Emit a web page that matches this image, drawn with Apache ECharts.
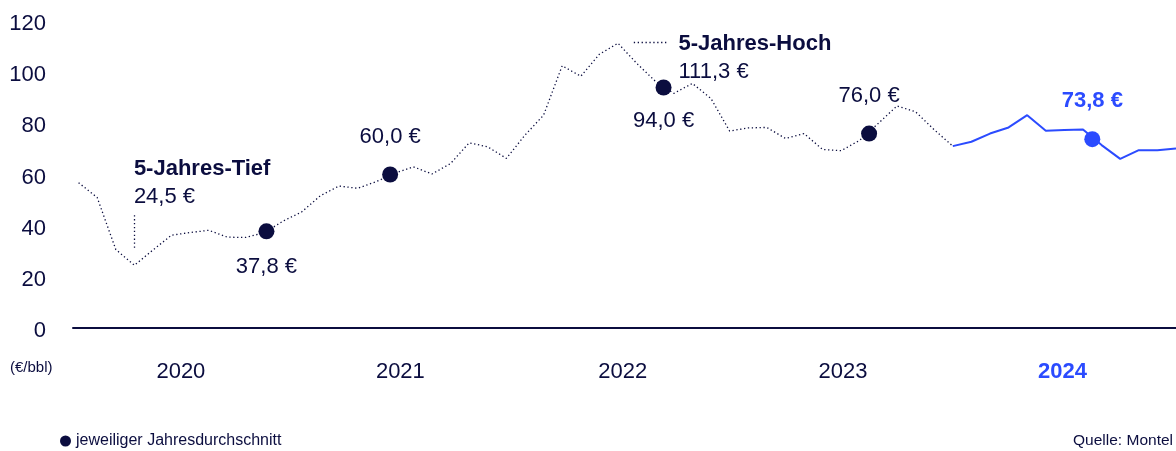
<!DOCTYPE html>
<html>
<head>
<meta charset="utf-8">
<script src="https://cdn.jsdelivr.net/npm/echarts@6/dist/echarts.min.js"></script>
<style>
html, body { margin: 0; padding: 0; background: #fff; }
#chart { width: 1176px; height: 451px; }
</style>
</head>
<body>
<div id="chart"></div>
<script>
// Brent, €/bbl, monatlich Jan 2020 (Index 0) bis Dez 2024 (Index 59)
const prices = [
  56.8, 51.0, 30.7, 24.5, 30.5, 36.3, 37.3, 38.2, 35.5, 35.4, 37.3, 41.8,
  45.4, 51.7, 55.5, 54.6, 57.2, 60.5, 63.0, 60.2, 64.3, 72.4, 70.8, 66.3,
  75.4, 83.2, 102.5, 98.4, 107.0, 111.3, 103.5, 96.5, 91.7, 95.6, 89.7, 77.0,
  78.2, 78.4, 74.1, 76.0, 69.8, 69.3, 73.4, 80.0, 86.8, 84.5, 77.5, 71.1,
  72.8, 76.0, 78.4, 83.2, 77.1, 77.4, 77.6, 71.5, 66.1, 69.5, 69.5, 70.2
]
const currentFrom = 47 // ab hier durchgezogen (2024)

const years = ['2020', '2021', '2022', '2023', '2024']
const yearLabelPos = [5.5, 17.3, 29.25, 41.1, 52.9]

// Jahresdurchschnitte
const avgPos = [10.1, 16.75, 31.45, 42.5, 54.5]
const avgValues = [37.8, 60.0, 94.0, 76.0, 73.8]
const avgSide = ['bottom', 'top', 'bottom', 'top', 'top']

const lowIdx = 3
const highIdx = 29

const navy = '#0b0d3f'
const blue = '#2b4bff'
const font = '"Liberation Sans", Arial, sans-serif'

const fmt = v => v.toFixed(1).replace('.', ',') + ' €'

const chart = echarts.init(document.getElementById('chart'))
chart.setOption({
  animation: false,
  textStyle: { fontFamily: font, color: navy },
  grid: { left: 73, right: 0, top: 21, bottom: 123 },
  legend: {
    left: 55,
    top: 428,
    itemWidth: 11,
    itemHeight: 11,
    textStyle: { fontSize: 16, color: navy, fontFamily: font },
    data: [{ name: 'jeweiliger Jahresdurchschnitt', icon: 'circle', itemStyle: { color: navy } }]
  },
  xAxis: {
    type: 'value',
    min: -0.3,
    max: 59,
    splitLine: { show: false },
    axisTick: { show: false },
    axisLine: { lineStyle: { color: navy, width: 2 } },
    axisLabel: {
      customValues: yearLabelPos,
      margin: 33,
      fontSize: 22,
      color: navy,
      formatter: v => {
        const i = yearLabelPos.indexOf(v)
        return i === years.length - 1 ? '{cur|' + years[i] + '}' : years[i]
      },
      rich: { cur: { color: blue, fontWeight: 'bold', fontSize: 22, fontFamily: font } }
    }
  },
  yAxis: {
    type: 'value',
    min: 0,
    max: 120,
    interval: 20,
    splitLine: { show: false },
    axisLine: { show: false },
    axisTick: { show: false },
    axisLabel: {
      margin: 27,
      formatter: v => '{t|' + v + '}',
      rich: { t: { fontSize: 22, color: navy, fontFamily: font, padding: [6, 0, 0, 0] } }
    }
  },
  graphic: [
    { type: 'text', left: 10, top: 360, style: { text: '(€/bbl)', font: '15px ' + font, fill: navy } },
    { type: 'text', right: 3, top: 433, style: { text: 'Quelle: Montel', font: '15.5px ' + font, fill: navy } }
  ],
  series: [
    {
      name: 'Brent',
      type: 'line',
      data: prices.slice(0, currentFrom + 1).map((v, i) => [i, v]),
      showSymbol: false,
      lineStyle: { color: navy, width: 1.3, type: [1.3, 2.6] },
      markPoint: {
        symbol: 'circle',
        symbolSize: 1,
        itemStyle: { color: 'rgba(0,0,0,0)' },
        label: {
          show: true,
          align: 'left',
          verticalAlign: 'top',
          rich: {
            b: { fontWeight: 'bold', fontSize: 22, lineHeight: 28, color: navy, fontFamily: font },
            r: { fontSize: 22, lineHeight: 28, color: navy, fontFamily: font }
          }
        },
        data: [
          {
            coord: [lowIdx, prices[lowIdx]],
            label: { position: [0, -110], formatter: '{b|5-Jahres-Tief}\n{r|' + fmt(prices[lowIdx]) + '}' }
          },
          {
            coord: [highIdx, prices[highIdx]],
            label: { position: [61, -13], formatter: '{b|5-Jahres-Hoch}\n{r|' + fmt(prices[highIdx]) + '}' }
          }
        ]
      },
      markLine: {
        silent: true,
        symbol: 'none',
        label: { show: false },
        lineStyle: { color: navy, width: 1.3, type: [1.3, 2.6] },
        data: [
          [{ coord: [lowIdx, 44.1] }, { coord: [lowIdx, 30.9] }],
          [{ coord: [29.85, 111.8] }, { coord: [31.6, 111.8] }]
        ]
      }
    },
    {
      name: 'Brent 2024',
      type: 'line',
      data: prices.slice(currentFrom).map((v, k) => [k + currentFrom, v]),
      showSymbol: false,
      lineStyle: { color: blue, width: 2 }
    },
    {
      name: 'jeweiliger Jahresdurchschnitt',
      type: 'scatter',
      symbolSize: 16,
      z: 5,
      itemStyle: { color: navy, opacity: 1 },
      data: avgValues.map((v, k) => {
        const last = k === avgValues.length - 1
        return {
          value: [avgPos[k], v],
          itemStyle: { color: last ? blue : navy },
          label: {
            show: true,
            position: avgSide[k],
            distance: avgSide[k] === 'top' ? 19 : (k === 0 ? 17 : 14),
            formatter: fmt(v),
            fontSize: 22,
            fontFamily: font,
            fontWeight: last ? 'bold' : 'normal',
            color: last ? blue : navy
          }
        }
      })
    }
  ]
})
</script>
</body>
</html>
